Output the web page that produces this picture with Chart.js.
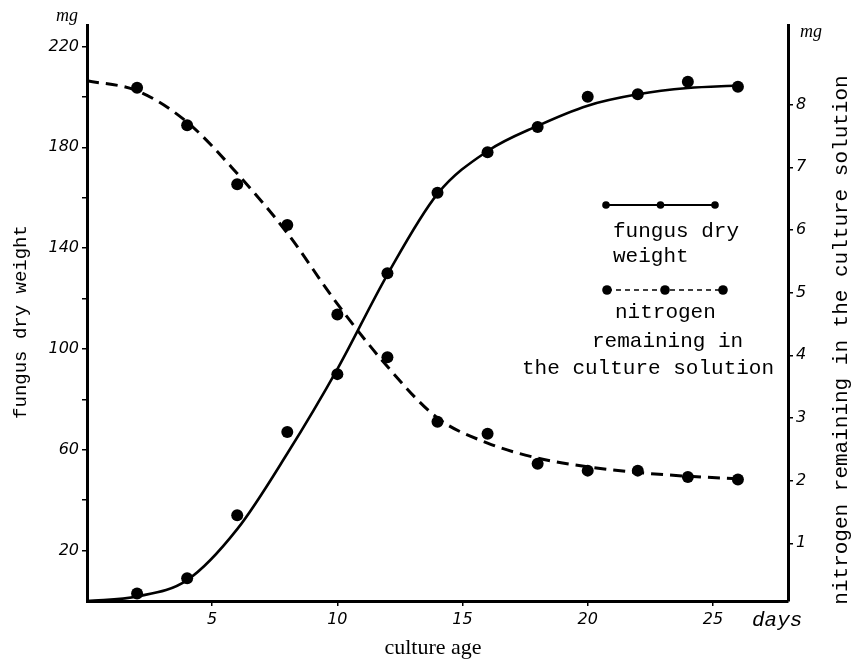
<!DOCTYPE html>
<html>
<head>
<meta charset="utf-8">
<script src="https://cdn.jsdelivr.net/npm/chart.js@4.4.1/dist/chart.umd.min.js"></script>
<style>
  html, body { margin: 0; padding: 0; background: #fff; }
  #wrap { width: 853px; height: 663px; }
</style>
</head>
<body>
<div id="wrap"><canvas id="chart" width="853" height="663"></canvas></div>
<script>
// measured days (culture age)
var days = [2, 4, 6, 8, 10, 12, 14, 16, 18, 20, 22, 24, 26];
// fungus dry weight, mg (left axis)
var fungusPts = [3, 9, 34, 67, 90, 130, 162, 178, 188, 200, 201, 206, 204];
// nitrogen remaining in the culture solution, mg (right axis)
var nitrogenPts = [8.27, 7.67, 6.73, 6.08, 4.65, 3.97, 2.94, 2.75, 2.27, 2.16, 2.16, 2.06, 2.02];

// the smooth hand-drawn curves, every second day
var curveDays = [0, 2, 4, 6, 8, 10, 12, 14, 16, 18, 20, 22, 24, 26];
var fungusCurve = [0, 1.8, 8.3, 28.5, 58.5, 92, 129.5, 161.5, 178.5, 188.5, 196.5, 201, 203.5, 204.5];
var nitrogenCurve = [8.38, 8.22, 7.72, 6.9, 5.95, 4.82, 3.82, 3.0, 2.6, 2.36, 2.22, 2.13, 2.07, 2.03];

// axis ticks
var xTicks = [5, 10, 15, 20, 25];
var leftTicks = [20, 40, 60, 80, 100, 120, 140, 160, 180, 200, 220];
var leftLabels = [20, 60, 100, 140, 180, 220];
var rightTicks = [1, 2, 3, 4, 5, 6, 7, 8];

function pairs(xs, ys) {
  return xs.map(function(x, i) { return { x: x, y: ys[i] }; });
}

var tickFont = { family: 'DejaVu Sans', size: 16, style: 'italic' };
var mono = '"Liberation Mono", "DejaVu Sans Mono", monospace';

// titles, units and the hand-drawn key
var annotations = {
  id: 'annotations',
  afterDraw: function(chart) {
    var c = chart.ctx;
    c.save();
    c.fillStyle = '#000';
    c.strokeStyle = '#000';

    c.font = 'italic 18px "Liberation Serif", serif';
    c.textAlign = 'center';
    c.textBaseline = 'middle';
    c.fillText('mg', 67, 16);
    c.fillText('mg', 811, 32);

    c.font = 'italic 21px ' + mono;
    c.textAlign = 'left';
    c.fillText('days', 752, 620);

    c.font = '22px "Liberation Serif", serif';
    c.textAlign = 'center';
    c.fillText('culture age', 433, 648);

    c.save();
    c.translate(21, 322);
    c.rotate(-Math.PI / 2);
    c.font = '19px ' + mono;
    c.fillText('fungus dry weight', 0, 0);
    c.restore();

    c.save();
    c.translate(841, 340);
    c.rotate(-Math.PI / 2);
    c.font = '21px ' + mono;
    c.fillText('nitrogen remaining in the culture solution', 0, 0);
    c.restore();

    // key
    function keyLine(x0, x1, y, dashed, r) {
      c.lineWidth = dashed ? 1.6 : 1.8;
      c.setLineDash(dashed ? [5, 4] : []);
      c.beginPath(); c.moveTo(x0, y); c.lineTo(x1, y); c.stroke();
      c.setLineDash([]);
      [x0, (x0 + x1) / 2, x1].forEach(function(x) {
        c.beginPath(); c.arc(x, y, r, 0, Math.PI * 2); c.fill();
      });
    }
    keyLine(606, 715, 205, false, 3.8);
    keyLine(607, 723, 290, true, 4.8);

    c.font = '21px ' + mono;
    c.textAlign = 'left';
    c.textBaseline = 'alphabetic';
    c.fillText('fungus dry', 613, 237);
    c.fillText('weight', 613, 262);
    c.fillText('nitrogen', 615, 318);
    c.fillText('remaining in', 592, 347);
    c.fillText('the culture solution', 522, 374);
    c.restore();
  }
};

new Chart(document.getElementById('chart'), {
  type: 'scatter',
  data: {
    datasets: [
      { label: 'fungus curve', data: pairs(curveDays, fungusCurve), yAxisID: 'y',
        showLine: true, borderColor: '#000', borderWidth: 2.6, pointRadius: 0,
        cubicInterpolationMode: 'monotone', order: 2 },
      { label: 'nitrogen curve', data: pairs(curveDays, nitrogenCurve), yAxisID: 'y2',
        showLine: true, borderColor: '#000', borderWidth: 3, borderDash: [12, 7], pointRadius: 0,
        cubicInterpolationMode: 'monotone', order: 2 },
      { label: 'fungus dry weight', data: pairs(days, fungusPts), yAxisID: 'y',
        showLine: false, pointRadius: 6, pointBackgroundColor: '#000', pointBorderWidth: 0, order: 1 },
      { label: 'nitrogen remaining', data: pairs(days, nitrogenPts), yAxisID: 'y2',
        showLine: false, pointRadius: 6, pointBackgroundColor: '#000', pointBorderWidth: 0, order: 1 }
    ]
  },
  options: {
    responsive: false,
    animation: false,
    layout: { padding: { top: 25 } },
    plugins: { legend: { display: false }, tooltip: { enabled: false } },
    scales: {
      x: {
        type: 'linear', min: 0, max: 28,
        afterBuildTicks: function(s) { s.ticks = xTicks.map(function(v) { return { value: v }; }); },
        afterFit: function(s) { s.height = 62; },
        border: { display: true, color: '#000', width: 3 },
        grid: { drawOnChartArea: false, drawTicks: true, tickLength: 5, color: '#000', lineWidth: 1.5 },
        ticks: { color: '#000', font: tickFont, padding: 4 }
      },
      y: {
        position: 'left', min: 0, max: 228.5,
        afterBuildTicks: function(s) { s.ticks = leftTicks.map(function(v) { return { value: v }; }); },
        afterFit: function(s) { s.width = 87; },
        border: { display: true, color: '#000', width: 3 },
        grid: { drawOnChartArea: false, drawTicks: true, tickLength: 5, color: '#000', lineWidth: 1.5 },
        ticks: { color: '#000', font: tickFont, padding: 3,
          callback: function(v) { return leftLabels.indexOf(v) >= 0 ? String(v) : ''; } }
      },
      y2: {
        position: 'right', min: 0.08, max: 9.27,
        afterBuildTicks: function(s) { s.ticks = rightTicks.map(function(v) { return { value: v }; }); },
        afterFit: function(s) { s.width = 65; },
        border: { display: true, color: '#000', width: 3 },
        grid: { drawOnChartArea: false, drawTicks: true, tickLength: 5, color: '#000', lineWidth: 1.5 },
        ticks: { color: '#000', font: tickFont, padding: 3 }
      }
    }
  },
  plugins: [annotations]
});
</script>
</body>
</html>
